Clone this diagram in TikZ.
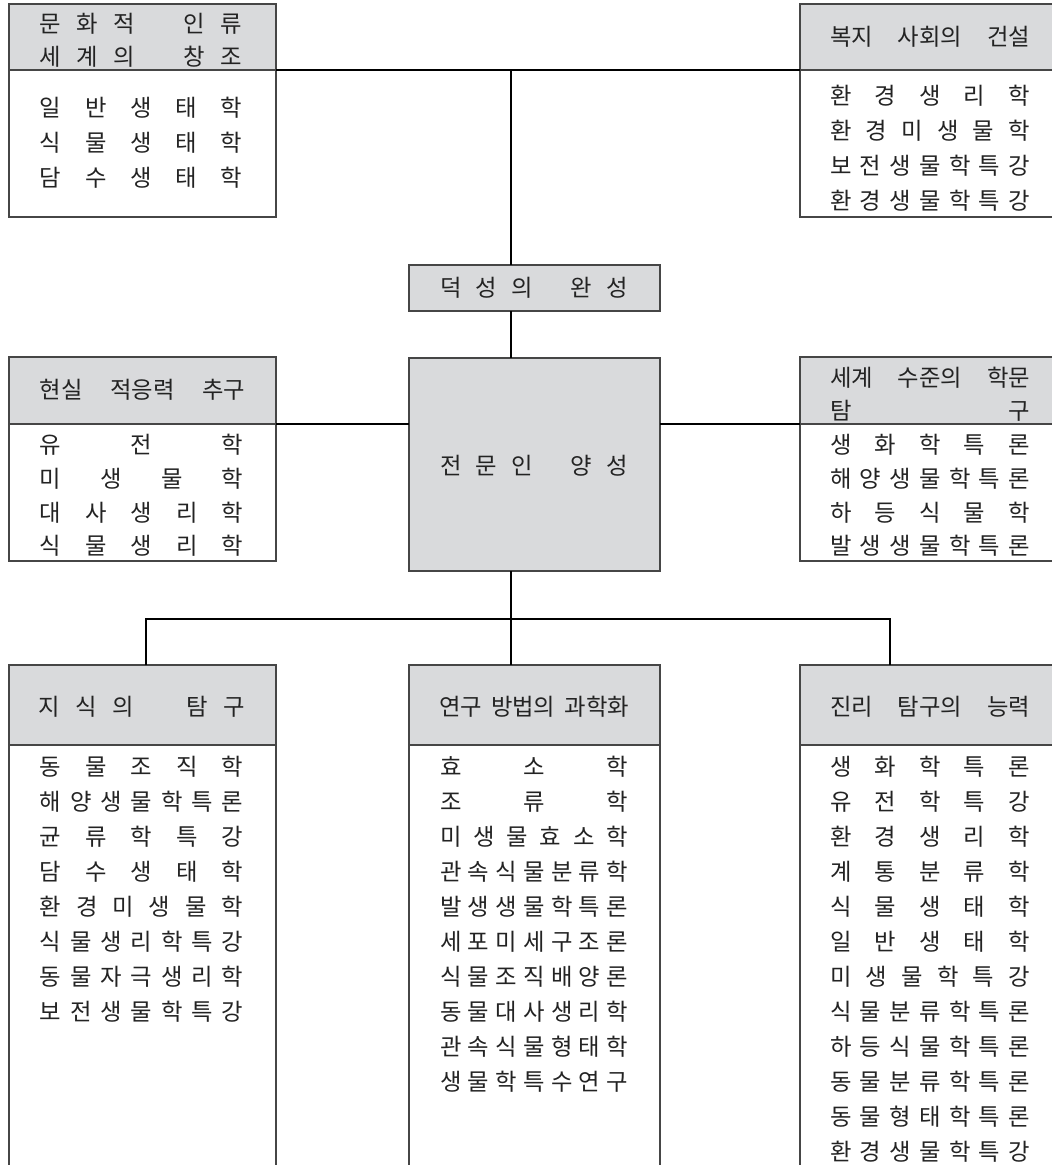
\documentclass[tikz,border=0pt]{standalone}
\usepackage{fontspec}
\setmainfont{Noto Sans CJK KR}
\usepackage{graphicx}
\newdimen\pxu \pxu=0.75pt
% spread the characters of a line evenly over a given width
\def\spA#1{\ifx\relax#1\else#1\expandafter\spB\fi}
\def\spB#1{\ifx\relax#1\else\hfill#1\expandafter\spB\fi}
\newcommand\spr[2]{\makebox[#1\pxu][l]{\expandafter\spA#2\relax}}
% header text stretched at the word spaces
\newcommand\cond[2]{\makebox[#1\pxu][s]{#2}}
\def\bA{\hbox to 17\pxu{}}
\def\bB{\hbox to 8\pxu{}}
\def\bC{\hbox to 20\pxu{}}
\definecolor{hdr}{RGB}{217,218,220}
\definecolor{edge}{RGB}{70,70,70}
\definecolor{ink}{RGB}{35,35,35}
\begin{document}
\begin{tikzpicture}[x=0.75pt,y=-0.75pt,
  wh/.style 2 args={minimum width=#1*0.75pt,minimum height=#2*0.75pt},
  boxbase/.style={draw=edge,line width=1pt,inner sep=0,outer sep=0,anchor=north west},
  hdrbox/.style={boxbase,fill=hdr},
  bodybox/.style={boxbase,fill=white},
  txt/.style={inner sep=0,outer sep=0,text=ink,font=\fontsize{17.5}{17.5}\selectfont},
  wire/.style={draw=black,line width=0.8pt}]
\useasboundingbox (0,0) rectangle (1052,1165);

% ---------- boxes ----------
\node[hdrbox,wh={267}{66}]   (tlh) at (9,4) {};
\node[bodybox,wh={267}{147}] (tlb) at (9,70) {};
\node[hdrbox,wh={256}{66}]   (trh) at (800,4) {};
\node[bodybox,wh={256}{147}] (trb) at (800,70) {};
\node[hdrbox,wh={251}{46}]   (dk)  at (409,265) {};
\node[hdrbox,wh={251}{213}]  (jm)  at (409,358) {};
\node[hdrbox,wh={267}{67}]   (mlh) at (9,357) {};
\node[bodybox,wh={267}{137}] (mlb) at (9,424) {};
\node[hdrbox,wh={256}{67}]   (mrh) at (800,357) {};
\node[bodybox,wh={256}{137}] (mrb) at (800,424) {};
\node[hdrbox,wh={267}{80}]   (blh) at (9,665) {};
\node[bodybox,wh={267}{430}] (blb) at (9,745) {};
\node[hdrbox,wh={251}{80}]   (bmh) at (409,665) {};
\node[bodybox,wh={251}{430}] (bmb) at (409,745) {};
\node[hdrbox,wh={256}{80}]   (brh) at (800,665) {};
\node[bodybox,wh={256}{430}] (brb) at (800,745) {};

% ---------- connectors ----------
\coordinate (t1) at (511,70);
\coordinate (hub) at (511,619);
\coordinate (dl) at (146,619);
\coordinate (dr) at (890,619);
\draw[wire] (tlh.south east) -- (trh.south west);
\draw[wire] (t1) -- (t1 |- dk.north);
\draw[wire] (dk.south -| t1) -- (jm.north -| t1);
\draw[wire] (mlh.south east) -- (mlh.south east -| jm.west);
\draw[wire] (mrh.south west) -- (mrh.south west -| jm.east);
\draw[wire] (jm.south -| hub) -- (hub);
\draw[wire] (blh.north -| dl) -- (dl) -- (dr) -- (brh.north -| dr);
\draw[wire] (hub) -- (bmh.north -| hub);

% ---------- header texts ----------
\node[txt] (tlt1) at (141,24) {\spr{202}{문화적\bA 인류}};
\node[txt] (tlt2) at (141,57) {\spr{202}{세계의\bA 창조}};
\node[txt] (trt)  at (930,37) {\cond{200}{복지 사회의 건설}};
\node[txt] (dkt)  at (534,288) {\spr{188}{덕성의\bB 완성}};
\node[txt] (jmt)  at (534,466) {\spr{188}{전문인\bB 양성}};
\node[txt] (mlt)  at (142.5,390) {\cond{205}{현실 적응력 추구}};
\node[txt] (mrt1) at (930,378) {\cond{200}{세계 수준의 학문}};
\node[txt] (mrt2) at (930,411) {\spr{200}{탐구}};
\node[txt] (blt)  at (141.5,707) {\spr{207}{지식의\bC 탐구}};
\node[txt] (bmt)  at (534,707) {\cond{190}{연구 방법의 과학화}};
\node[txt] (brt)  at (930,707) {\cond{200}{진리 탐구의 능력}};

% ---------- lists ----------
\foreach \t [count=\i] in {일반생태학,식물생태학,담수생태학}
  \node[txt] (tl\i) at (141,{108+35*(\i-1)}) {\spr{202}{\t}};
\foreach \t [count=\i] in {환경생리학,환경미생물학,보전생물학특강,환경생물학특강}
  \node[txt] (tr\i) at (930,{96+35*(\i-1)}) {\spr{200}{\t}};
\foreach \t [count=\i] in {유전학,미생물학,대사생리학,식물생리학}
  \node[txt] (ml\i) at (141.5,{445+33.7*(\i-1)}) {\spr{203}{\t}};
\foreach \t [count=\i] in {생화학특론,해양생물학특론,하등식물학,발생생물학특론}
  \node[txt] (mr\i) at (930,{445+33.7*(\i-1)}) {\spr{200}{\t}};
\foreach \t [count=\i] in {동물조직학,해양생물학특론,균류학특강,담수생태학,환경미생물학,식물생리학특강,동물자극생리학,보전생물학특강}
  \node[txt] (bl\i) at (141.5,{767+35*(\i-1)}) {\spr{203}{\t}};
\foreach \t [count=\i] in {효소학,조류학,미생물효소학,관속식물분류학,발생생물학특론,세포미세구조론,식물조직배양론,동물대사생리학,관속식물형태학,생물학특수연구}
  \node[txt] (bm\i) at (534,{767+35*(\i-1)}) {\spr{188}{\t}};
\foreach \t [count=\i] in {생화학특론,유전학특강,환경생리학,계통분류학,식물생태학,일반생태학,미생물학특강,식물분류학특론,하등식물학특론,동물분류학특론,동물형태학특론,환경생물학특강}
  \node[txt] (br\i) at (930,{767+35*(\i-1)}) {\spr{200}{\t}};
\end{tikzpicture}
\end{document}
